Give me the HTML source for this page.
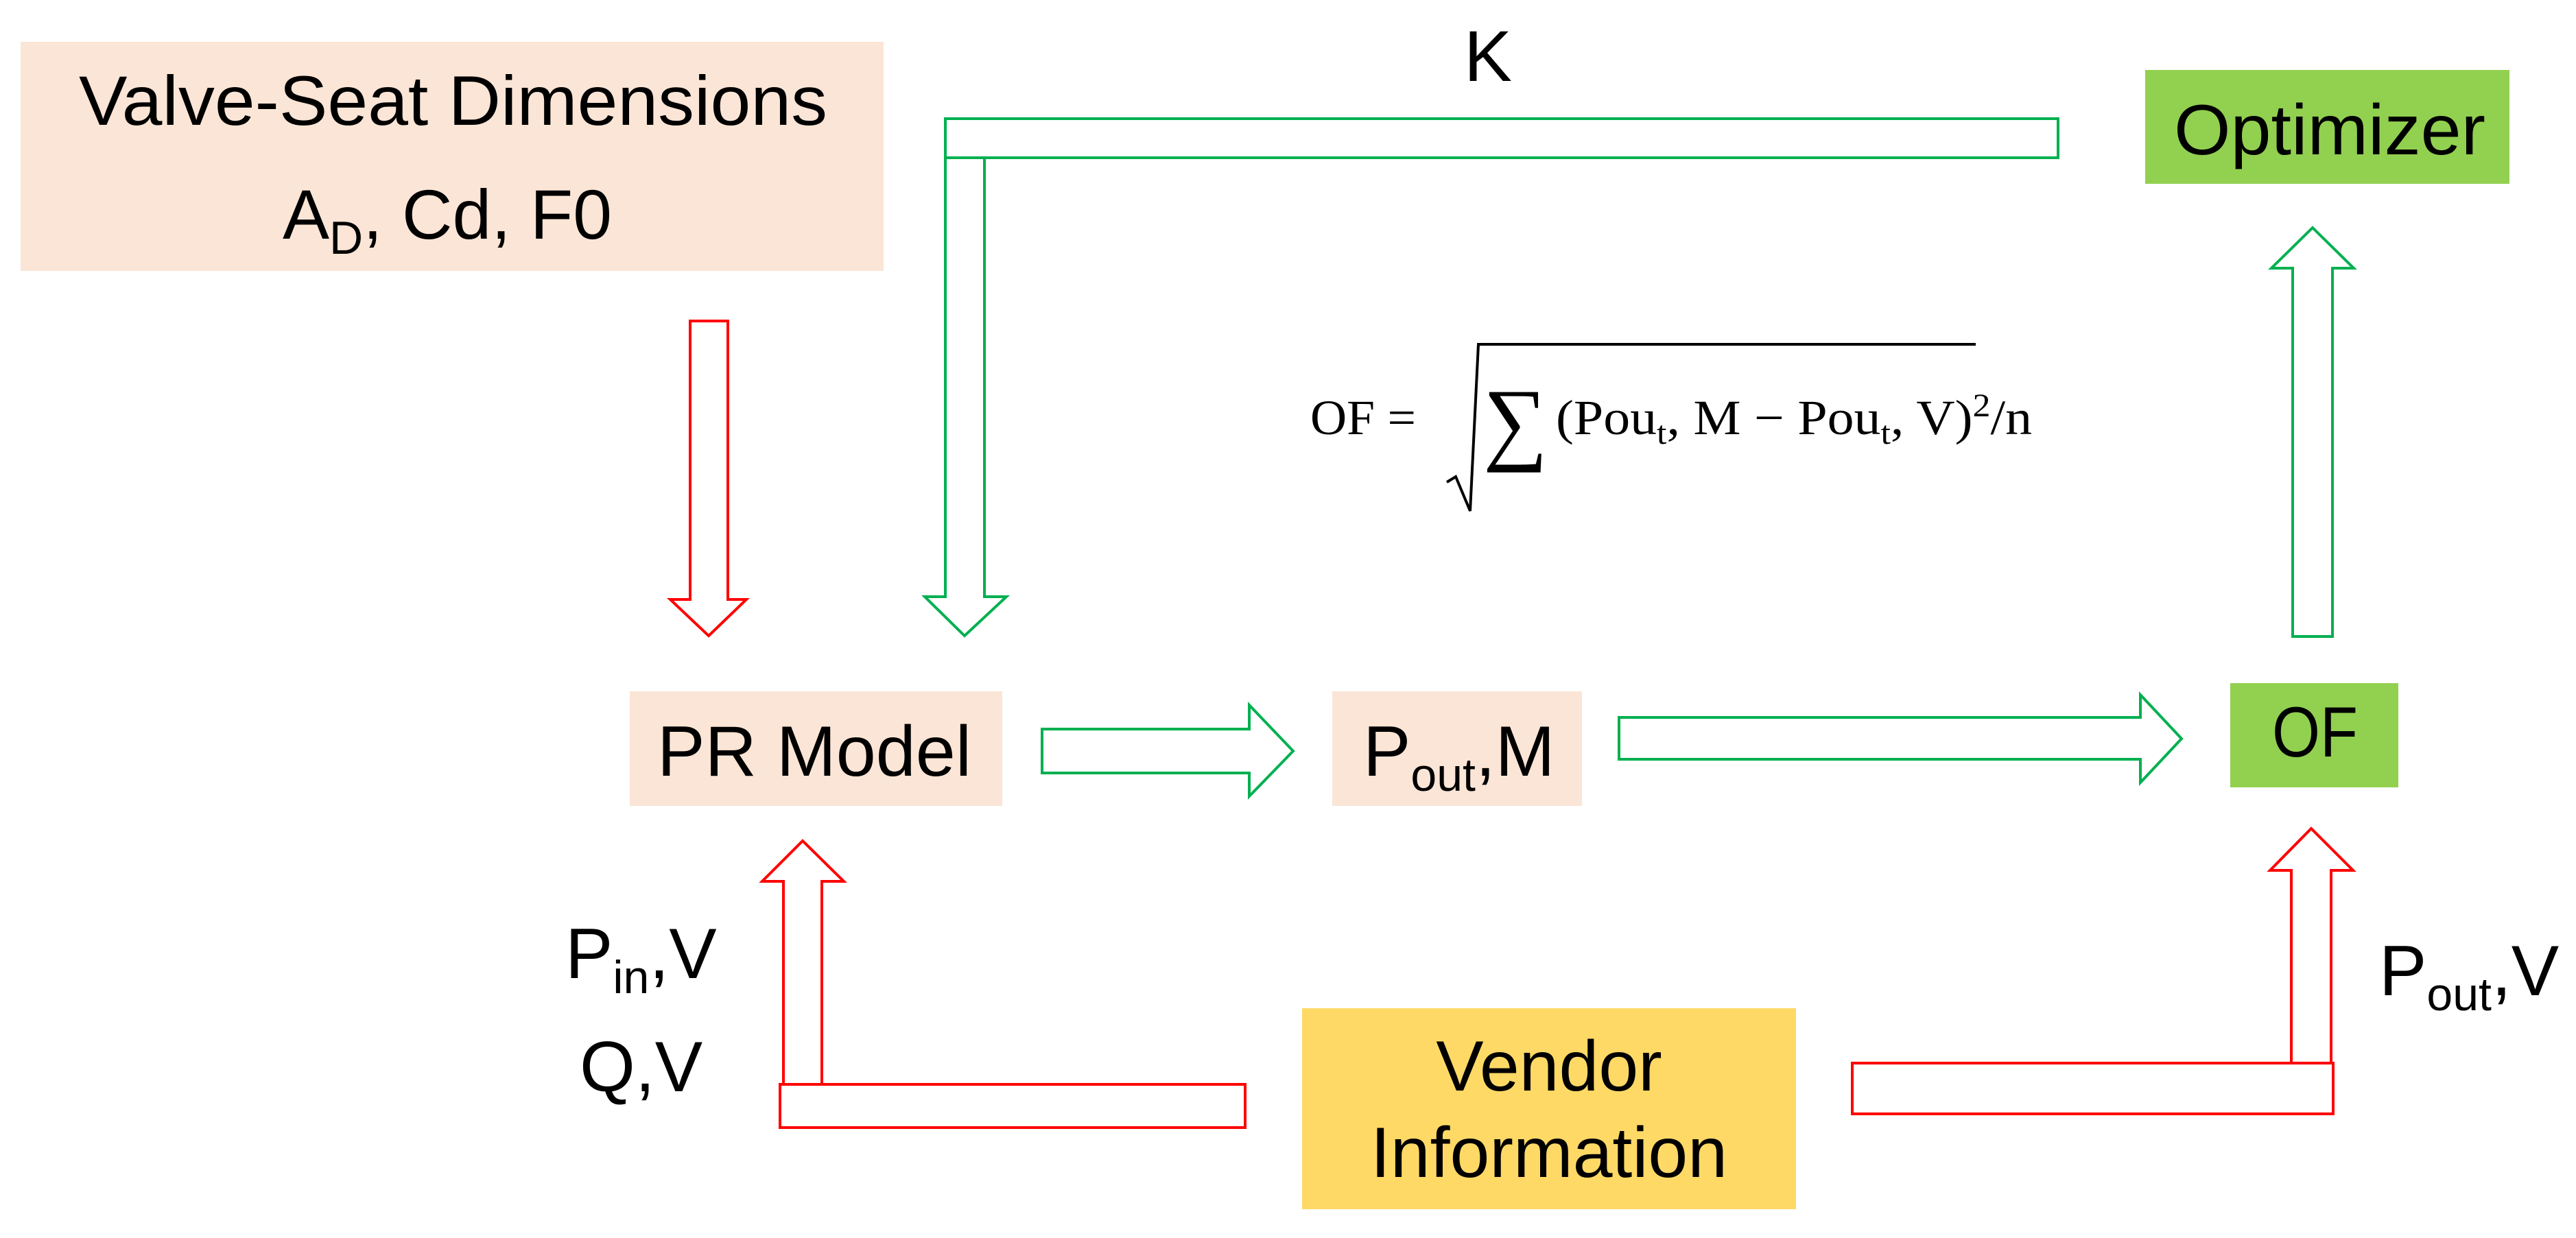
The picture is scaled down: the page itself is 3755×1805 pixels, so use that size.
<!DOCTYPE html>
<html><head><meta charset="utf-8"><style>
html,body{margin:0;padding:0;background:#fff;}
svg{display:block;}
text{font-family:"Liberation Sans",Arial,sans-serif;fill:#000;}
.m{font-family:"Liberation Serif","DejaVu Serif",serif;}
</style></head><body>
<svg width="3755" height="1805" viewBox="0 0 3755 1805" xmlns="http://www.w3.org/2000/svg">
<rect x="30" y="61" width="1258" height="334" fill="#fbe5d6"/>
<rect x="3127" y="102" width="531" height="166" fill="#92d050"/>
<rect x="918" y="1008" width="543" height="167" fill="#fbe5d6"/>
<rect x="1942" y="1008" width="364" height="167" fill="#fbe5d6"/>
<rect x="3251" y="996" width="245" height="152" fill="#92d050"/>
<rect x="1898" y="1470" width="720" height="293" fill="#ffd966"/>

<g fill="none" stroke-width="4" stroke-linejoin="miter">
<path d="M1006,468 H1061 V874 H1088 L1033,927 L977,874 H1006 Z" stroke="#ff0000"/>
<path d="M1378,173 H3000 V230 H1435 V870 H1467 L1406,927 L1348,870 H1378 Z" stroke="#00b050"/>
<line x1="1378" y1="230" x2="1435" y2="230" stroke="#00b050"/>
<path d="M3342,928 V391 H3311 L3371,332 L3431,391 H3400 V928 Z" stroke="#00b050"/>
<path d="M1519,1063 H1821 V1028 L1885,1095 L1821,1161 V1127 H1519 Z" stroke="#00b050"/>
<path d="M2360,1046 H3120 V1013 L3180,1077 L3120,1141 V1107 H2360 Z" stroke="#00b050"/>
<path d="M1142,1581 V1285 H1111 L1170,1226 L1230,1285 H1198 V1581" stroke="#ff0000"/>
<rect x="1137" y="1581" width="678" height="63" stroke="#ff0000"/>
<path d="M3340,1550 V1269 H3309 L3369,1208 L3430,1269 H3398 V1550" stroke="#ff0000"/>
<rect x="2700" y="1550" width="701" height="74" stroke="#ff0000"/>
</g>

<text x="115" y="182" font-size="102" textLength="1091" lengthAdjust="spacingAndGlyphs">Valve-Seat Dimensions</text>
<text x="412" y="348" font-size="102">A<tspan font-size="68" dy="22">D</tspan><tspan dy="-22">, Cd, F0</tspan></text>
<text x="2134" y="118" font-size="105">K</text>
<text x="3169" y="225" font-size="104" textLength="454" lengthAdjust="spacingAndGlyphs">Optimizer</text>
<text x="958" y="1131" font-size="104" textLength="458" lengthAdjust="spacingAndGlyphs">PR Model</text>
<text x="1987" y="1131" font-size="104">P<tspan font-size="68" dy="22">out</tspan><tspan dy="-22">,M</tspan></text>
<text x="3312" y="1103" font-size="104" textLength="125" lengthAdjust="spacingAndGlyphs">OF</text>
<text x="824" y="1426" font-size="104">P<tspan font-size="68" dy="22">in</tspan><tspan dy="-22">,V</tspan></text>
<text x="845" y="1591" font-size="104">Q,V</text>
<text x="3468" y="1451" font-size="104">P<tspan font-size="68" dy="22">out</tspan><tspan dy="-22">,V</tspan></text>
<text x="2258" y="1590" font-size="104" text-anchor="middle">Vendor</text>
<text x="2258" y="1716" font-size="104" text-anchor="middle">Information</text>

<text class="m" x="1910" y="633" font-size="72" textLength="154" lengthAdjust="spacingAndGlyphs">OF =</text>
<path d="M2109,703 L2122,695 L2143,745 L2155,502 H2880" fill="none" stroke="#000" stroke-width="4"/>
<text class="m" x="2162" y="660" font-size="135" textLength="94" lengthAdjust="spacingAndGlyphs">∑</text>
<text class="m" x="2268" y="633" font-size="72" textLength="694" lengthAdjust="spacingAndGlyphs">(Pou<tspan font-size="48" dy="14">t</tspan><tspan dy="-14">, M − Pou</tspan><tspan font-size="48" dy="14">t</tspan><tspan dy="-14">, V)</tspan><tspan font-size="48" dy="-26">2</tspan><tspan dy="26">/n</tspan></text>
</svg>
</body></html>
